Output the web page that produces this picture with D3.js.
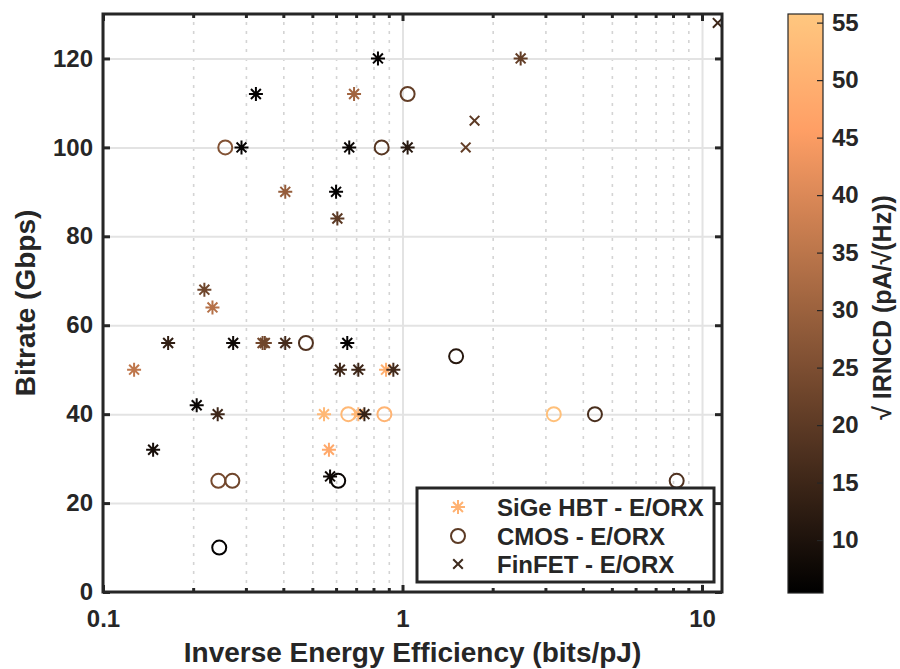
<!DOCTYPE html>
<html>
<head>
<meta charset="utf-8">
<script src="https://cdn.jsdelivr.net/npm/d3@7"></script>
<style>
  html, body { margin: 0; padding: 0; background: #ffffff; }
  svg { display: block; }
  text { font-family: "Liberation Sans", Arial, Helvetica, sans-serif; font-weight: bold; fill: #262626; }
</style>
</head>
<body>
<svg id="chart" width="900" height="669"></svg>
<script>
// ---------------- DATA ----------------
// SiGe HBT - E/ORX (asterisks)
const sigeX = [0.828, 2.48, 0.324, 0.689, 0.29, 0.664, 1.04, 0.60, 0.406, 0.606, 0.218, 0.232, 0.127, 0.165, 0.272, 0.341, 0.347, 0.406, 0.654, 0.618, 0.712, 0.881, 0.932, 0.2055, 0.2415, 0.547, 0.712, 0.746, 0.568, 0.147, 0.573];
const sigeY = [120, 120, 112, 112, 100, 100, 100, 90, 90, 84, 68, 64, 50, 56, 56, 56, 56, 56, 56, 50, 50, 50, 50, 42, 40, 40, 40, 40, 32, 32, 26];
const sigeC = [6, 21, 6, 31, 6, 7, 11.5, 6, 29, 20, 23, 34, 35.5, 13, 8, 24, 23, 16.5, 6, 15, 15, 50, 16, 7, 15, 52, 51, 14, 48, 9, 8];

// CMOS - E/ORX (circles)
const cmosX = [0.476, 1.51, 0.659, 0.87, 3.2, 4.39, 0.61, 0.2427, 0.2703, 0.2444, 8.23, 0.256, 0.852, 1.04];
const cmosY = [56, 53, 40, 40, 40, 40, 25, 25, 25, 10, 25, 100, 100, 112];
const cmosC = [18, 11.5, 52, 51, 54, 17, 7, 24, 23, 6, 18, 26, 19, 21];

// FinFET - E/ORX (crosses)
const finX = [1.74, 1.626, 11.28];
const finY = [106, 100, 128];
const finC = [20, 21, 15];

// Axes ticks / labels
const xTicks = [0.1, 1, 10];
const xTickLabels = ["0.1", "1", "10"];
const xMinor = [0.2, 0.3, 0.4, 0.5, 0.6, 0.7, 0.8, 0.9, 2, 3, 4, 5, 6, 7, 8, 9];
const yTicks = [0, 20, 40, 60, 80, 100, 120];
const cbTicks = [10, 15, 20, 25, 30, 35, 40, 45, 50, 55];
const xDomain = [0.1, 11.66];
const yDomain = [0, 130];
const cDomain = [5.4, 55.75];

const xLabel = "Inverse Energy Efficiency (bits/pJ)";
const yLabel = "Bitrate (Gbps)";
const cLabel = "\u221A IRNCD (pA/\u221A(Hz))";
const legendLabels = ["SiGe HBT - E/ORX", "CMOS - E/ORX", "FinFET - E/ORX"];

// ---------------- LAYOUT ----------------
const L = 103, R = 722, T = 14, B = 592;
const svg = d3.select("#chart");
const ink = "#262626";

const x = d3.scaleLog().domain(xDomain).range([L, R]);
const y = d3.scaleLinear().domain(yDomain).range([B, T]);

// copper colormap
function copper(t) {
  t = Math.max(0, Math.min(1, t));
  const r = Math.min(1, 1.25 * t), g = 0.7812 * t, b = 0.4975 * t;
  return d3.rgb(r * 255, g * 255, b * 255).toString();
}
const cNorm = d3.scaleLinear().domain(cDomain).range([0, 1]).clamp(true);
const colorOf = v => copper(cNorm(v));

// ---------------- GRID ----------------
const grid = svg.append("g");
grid.append("g").attr("transform", `translate(0,${B})`)
  .call(d3.axisBottom(x).tickValues(xMinor).tickSize(-(B - T)).tickFormat(""))
  .call(g => g.select(".domain").remove())
  .call(g => g.selectAll("line").attr("stroke", "#d4d4d4").attr("stroke-width", 1.6).attr("stroke-dasharray", "3,6"));
grid.append("g").attr("transform", `translate(0,${B})`)
  .call(d3.axisBottom(x).tickValues(xTicks).tickSize(-(B - T)).tickFormat(""))
  .call(g => g.select(".domain").remove())
  .call(g => g.selectAll("line").attr("stroke", "#e3e3e3").attr("stroke-width", 2));
grid.append("g").attr("transform", `translate(${L},0)`)
  .call(d3.axisLeft(y).tickValues(yTicks).tickSize(-(R - L)).tickFormat(""))
  .call(g => g.select(".domain").remove())
  .call(g => g.selectAll("line").attr("stroke", "#e3e3e3").attr("stroke-width", 2));

// ---------------- MARKERS ----------------
function starPath(r) {
  const a = r * Math.SQRT1_2;
  return `M${-r},0L${r},0M0,${-r}L0,${r}M${-a},${-a}L${a},${a}M${-a},${a}L${a},${-a}`;
}
function crossPath(r) {
  return `M${-r},${-r}L${r},${r}M${-r},${r}L${r},${-r}`;
}

const marks = svg.append("g");
const sige = sigeX.map((v, i) => ({ x: v, y: sigeY[i], c: sigeC[i] }));
const cmos = cmosX.map((v, i) => ({ x: v, y: cmosY[i], c: cmosC[i] }));
const fin = finX.map((v, i) => ({ x: v, y: finY[i], c: finC[i] }));

marks.append("g").selectAll("path").data(sige).join("path")
  .attr("transform", d => `translate(${x(d.x)},${y(d.y)})`)
  .attr("d", starPath(7))
  .attr("fill", "none")
  .attr("stroke", d => colorOf(d.c))
  .attr("stroke-width", 2);

marks.append("g").selectAll("circle").data(cmos).join("circle")
  .attr("cx", d => x(d.x)).attr("cy", d => y(d.y))
  .attr("r", 7)
  .attr("fill", "none")
  .attr("stroke", d => colorOf(d.c))
  .attr("stroke-width", 2);

marks.append("g").selectAll("path").data(fin).join("path")
  .attr("transform", d => `translate(${x(d.x)},${y(d.y)})`)
  .attr("d", crossPath(4.8))
  .attr("fill", "none")
  .attr("stroke", d => colorOf(d.c))
  .attr("stroke-width", 2);

// ---------------- AXES ----------------
const fs = 24;
function styleAxis(g) {
  g.select(".domain").remove();
  g.selectAll("line").attr("stroke", ink).attr("stroke-width", 3);
  g.selectAll("text").attr("font-size", fs).attr("fill", ink)
    .style("font-family", '"Liberation Sans", Arial, sans-serif').style("font-weight", "bold");
}
svg.append("g").attr("transform", `translate(0,${B})`)
  .call(d3.axisBottom(x).tickValues(xTicks).tickSizeInner(-7).tickSizeOuter(0).tickPadding(18)
    .tickFormat((d, i) => xTickLabels[i]))
  .call(styleAxis);
svg.append("g").attr("transform", `translate(0,${B})`)
  .call(d3.axisBottom(x).tickValues(xMinor).tickSizeInner(-4).tickSizeOuter(0).tickFormat(""))
  .call(styleAxis);
svg.append("g").attr("transform", `translate(0,${T})`)
  .call(d3.axisTop(x).tickValues(xTicks).tickSizeInner(-7).tickSizeOuter(0).tickFormat(""))
  .call(styleAxis);
svg.append("g").attr("transform", `translate(0,${T})`)
  .call(d3.axisTop(x).tickValues(xMinor).tickSizeInner(-4).tickSizeOuter(0).tickFormat(""))
  .call(styleAxis);
svg.append("g").attr("transform", `translate(${L},0)`)
  .call(d3.axisLeft(y).tickValues(yTicks).tickSizeInner(-7).tickSizeOuter(0).tickPadding(10))
  .call(styleAxis);
svg.append("g").attr("transform", `translate(${R},0)`)
  .call(d3.axisRight(y).tickValues(yTicks).tickSizeInner(-7).tickSizeOuter(0).tickFormat(""))
  .call(styleAxis);

svg.append("rect").attr("x", L).attr("y", T).attr("width", R - L).attr("height", B - T)
  .attr("fill", "none").attr("stroke", ink).attr("stroke-width", 3);

svg.append("text").attr("x", (L + R) / 2).attr("y", 662).attr("text-anchor", "middle")
  .attr("font-size", 28).text(xLabel);
svg.append("text").attr("transform", `translate(35,${(T + B) / 2}) rotate(-90)`)
  .attr("text-anchor", "middle").attr("font-size", 28).text(yLabel);

// ---------------- LEGEND ----------------
const lg = svg.append("g");
lg.append("rect").attr("x", 417).attr("y", 488).attr("width", 297).attr("height", 94)
  .attr("fill", "#ffffff").attr("stroke", ink).attr("stroke-width", 3);
const legendRows = [507, 536, 564];
const legendColors = ["#ffb272", "#5c3b25", "#3d2a1d"];
lg.append("path").attr("transform", `translate(458,${legendRows[0]})`).attr("d", starPath(7))
  .attr("fill", "none").attr("stroke", legendColors[0]).attr("stroke-width", 2);
lg.append("circle").attr("cx", 458).attr("cy", legendRows[1]).attr("r", 7)
  .attr("fill", "none").attr("stroke", legendColors[1]).attr("stroke-width", 2);
lg.append("path").attr("transform", `translate(458,${legendRows[2]})`).attr("d", crossPath(4.8))
  .attr("fill", "none").attr("stroke", legendColors[2]).attr("stroke-width", 2);
lg.selectAll("text.lt").data(legendLabels).join("text").attr("class", "lt")
  .attr("x", 497).attr("y", (d, i) => legendRows[i]).attr("dy", "0.36em")
  .attr("font-size", fs).text(d => d);

// ---------------- COLORBAR ----------------
const cbL = 788, cbR = 823, cbT = 14, cbB = 593;
const cy = d3.scaleLinear().domain(cDomain).range([cbB, cbT]);
const defs = svg.append("defs");
const grad = defs.append("linearGradient").attr("id", "copperGrad")
  .attr("x1", 0).attr("y1", 1).attr("x2", 0).attr("y2", 0);
d3.range(0, 1.0001, 0.05).forEach(t => {
  grad.append("stop").attr("offset", t).attr("stop-color", copper(t));
});
svg.append("rect").attr("x", cbL).attr("y", cbT).attr("width", cbR - cbL).attr("height", cbB - cbT)
  .attr("fill", "url(#copperGrad)").attr("stroke", ink).attr("stroke-width", 1.2);
svg.append("g").attr("transform", `translate(${cbR},0)`)
  .call(d3.axisRight(cy).tickValues(cbTicks).tickSizeInner(-6).tickSizeOuter(0).tickPadding(9))
  .call(g => {
    g.select(".domain").remove();
    g.selectAll("line").attr("stroke", ink).attr("stroke-width", 1.2);
    g.selectAll("text").attr("font-size", fs).attr("fill", ink)
      .style("font-family", '"Liberation Sans", Arial, sans-serif').style("font-weight", "bold");
  });
svg.append("text").attr("transform", `translate(891,${(cbT + cbB) / 2 + 4}) rotate(-90)`)
  .attr("text-anchor", "middle").attr("font-size", 25).text(cLabel);
</script>
</body>
</html>
